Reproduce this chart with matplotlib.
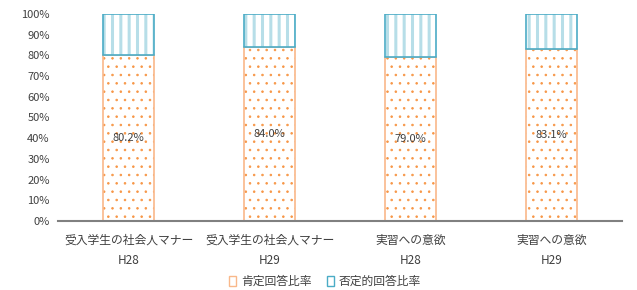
import matplotlib
matplotlib.use("Agg")
import matplotlib.pyplot as plt
from matplotlib.patches import Patch

plt.rcParams['font.family'] = ['Noto Sans CJK JP', 'DejaVu Sans']

categories = ["受入学生の社会人マナー\nH28", "受入学生の社会人マナー\nH29", "実習への意欲\nH28", "実習への意欲\nH29"]
positive = [80.2, 84.0, 79.0, 83.1]
negative = [19.8, 16.0, 21.0, 16.9]
series_names = ["肯定回答比率", "否定的回答比率"]
yticks = [0, 10, 20, 30, 40, 50, 60, 70, 80, 90, 100]

orange_edge = "#F9B88A"
orange_dot = "#F79646"
blue_edge = "#4BACC6"
blue_hatch = "#B7DEE8"
text_color = "#404040"

fig = plt.figure(figsize=(6.37, 2.90), dpi=100)
ax = fig.add_axes([0.091, 0.238, 0.886, 0.714])

x = list(range(len(categories)))
w = 0.36
with plt.rc_context({'hatch.linewidth': 0.6}):
    dots = ax.bar(x, positive, width=w, color="white", edgecolor=orange_dot, hatch="..", linewidth=0)
for b in dots:
    if hasattr(b, "set_hatch_linewidth"):
        b.set_hatch_linewidth(0.6)
ax.bar(x, positive, width=w, fill=False, edgecolor=orange_edge, linewidth=1.2)
with plt.rc_context({'hatch.linewidth': 2.2}):
    lines = ax.bar(x, negative, bottom=positive, width=w, color="white", edgecolor=blue_hatch, hatch="||", linewidth=0)
for b in lines:
    if hasattr(b, "set_hatch_linewidth"):
        b.set_hatch_linewidth(2.2)
ax.bar(x, negative, bottom=positive, width=w, fill=False, edgecolor=blue_edge, linewidth=1.2)

for xi, p in zip(x, positive):
    ax.text(xi, p / 2, f"{p:.1f}%", ha="center", va="center", fontsize=8, color=text_color)

ax.set_xlim(-0.5, len(categories) - 0.5)
ax.set_ylim(0, 100)
ax.set_yticks(yticks)
ax.set_yticklabels([f"{v}%" for v in yticks], fontsize=8, color=text_color)
ax.set_xticks(x)
ax.set_xticklabels(categories, fontsize=8.5, color=text_color, linespacing=1.8)
ax.tick_params(axis="x", length=0, pad=9)
ax.tick_params(axis="y", length=0, pad=6)
for s in ["top", "right", "left"]:
    ax.spines[s].set_visible(False)
ax.spines["bottom"].set_color("#808080")
ax.spines["bottom"].set_linewidth(1.5)

handles = [Patch(facecolor="white", edgecolor=orange_edge, linewidth=1.0),
           Patch(facecolor="white", edgecolor=blue_edge, linewidth=1.0)]
fig.legend(handles, series_names, loc="center", bbox_to_anchor=(0.51, 0.03), ncol=2,
           frameon=False, fontsize=8.5, handlelength=0.6, handleheight=0.9,
           handletextpad=0.4, columnspacing=1.3, labelcolor=text_color,
           borderpad=0.1)

fig.savefig("out.png", dpi=100)
